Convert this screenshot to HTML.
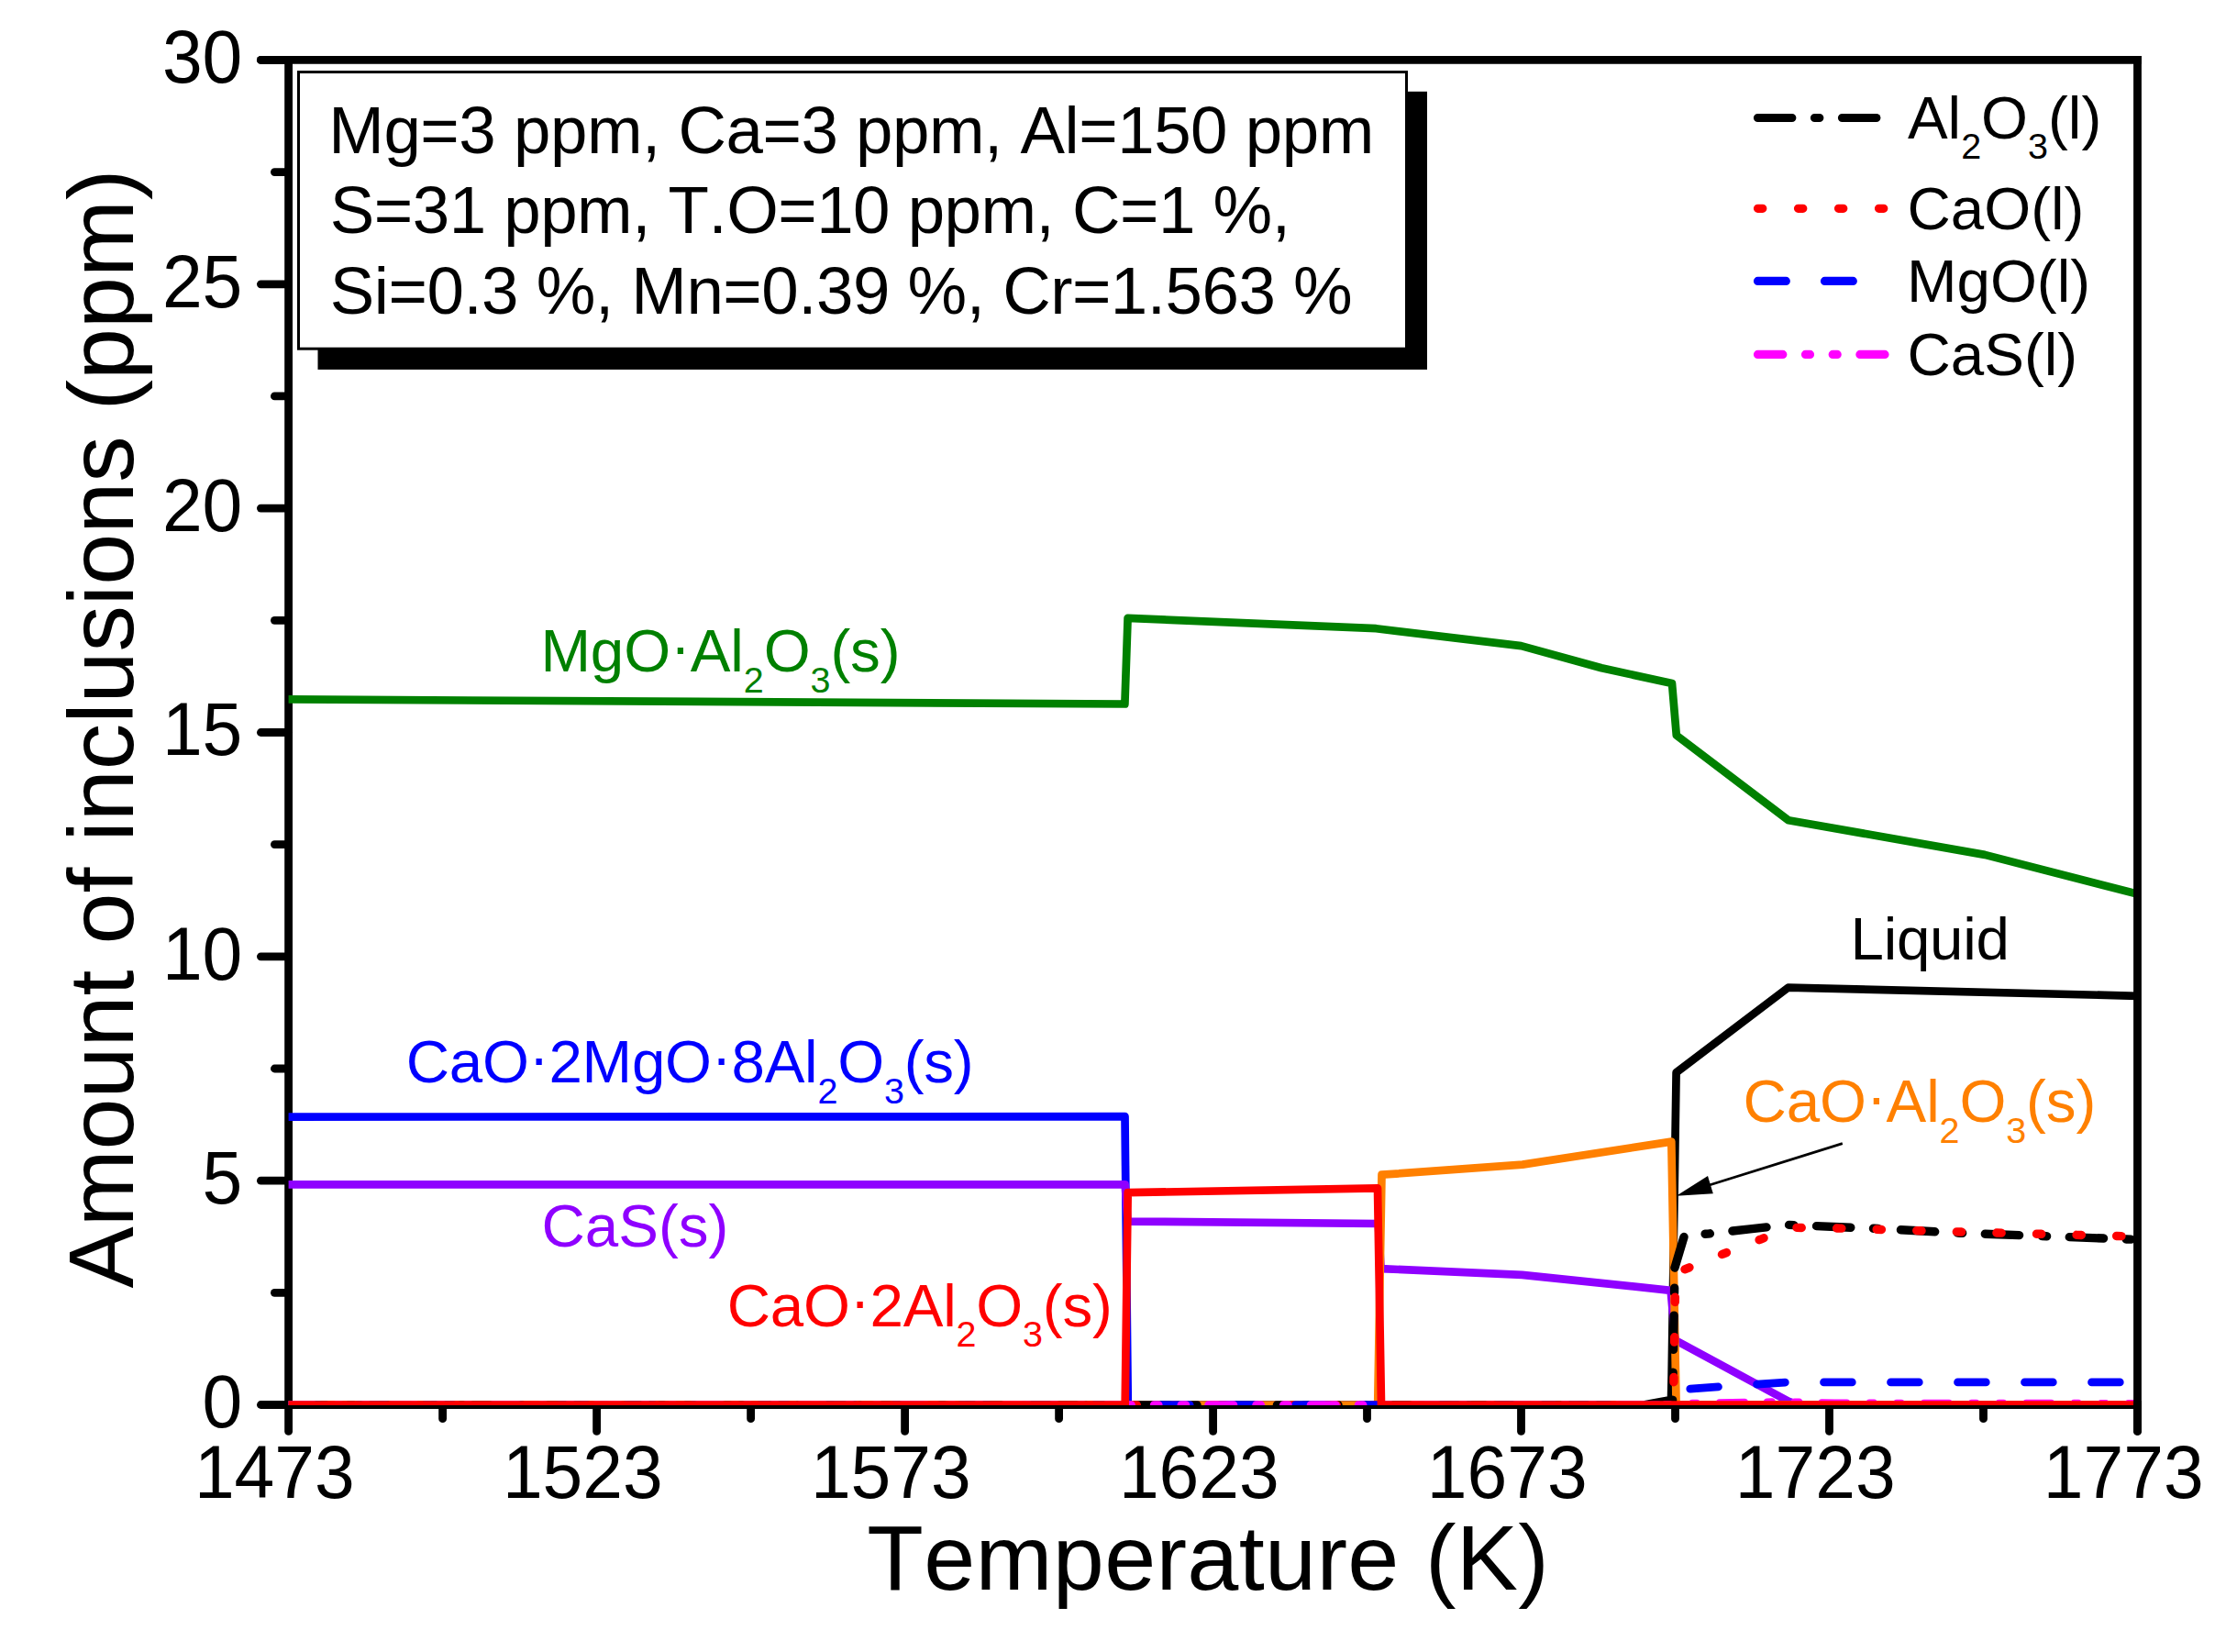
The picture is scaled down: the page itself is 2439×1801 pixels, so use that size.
<!DOCTYPE html>
<html lang="en"><head><meta charset="utf-8"><title>Amount of inclusions vs Temperature</title>
<style>html,body{margin:0;padding:0;background:#fff}svg{display:block}text{font-family:"Liberation Sans",sans-serif;font-kerning:none;font-variant-ligatures:none;}</style></head><body>
<svg width="2439" height="1801" viewBox="0 0 2439 1801">
<rect x="0" y="0" width="2439" height="1801" fill="#fff"/>
<defs><clipPath id="plotclip"><rect x="314.6" y="65.4" width="2015.9" height="1466.6"/></clipPath></defs>
<g stroke="#000" stroke-width="8.8" fill="none" stroke-linecap="round">
<line x1="284.4" y1="1531.5" x2="314.6" y2="1531.5"/>
<line x1="284.4" y1="1287.2" x2="314.6" y2="1287.2"/>
<line x1="284.4" y1="1042.8" x2="314.6" y2="1042.8"/>
<line x1="284.4" y1="798.5" x2="314.6" y2="798.5"/>
<line x1="284.4" y1="554.1" x2="314.6" y2="554.1"/>
<line x1="284.4" y1="309.8" x2="314.6" y2="309.8"/>
<line x1="284.4" y1="65.4" x2="314.6" y2="65.4"/>
<line x1="299.4" y1="1409.3" x2="314.6" y2="1409.3"/>
<line x1="299.4" y1="1165.0" x2="314.6" y2="1165.0"/>
<line x1="299.4" y1="920.6" x2="314.6" y2="920.6"/>
<line x1="299.4" y1="676.3" x2="314.6" y2="676.3"/>
<line x1="299.4" y1="431.9" x2="314.6" y2="431.9"/>
<line x1="299.4" y1="187.6" x2="314.6" y2="187.6"/>
<line x1="314.6" y1="1531.5" x2="314.6" y2="1560.4"/>
<line x1="650.6" y1="1531.5" x2="650.6" y2="1560.4"/>
<line x1="986.6" y1="1531.5" x2="986.6" y2="1560.4"/>
<line x1="1322.6" y1="1531.5" x2="1322.6" y2="1560.4"/>
<line x1="1658.5" y1="1531.5" x2="1658.5" y2="1560.4"/>
<line x1="1994.5" y1="1531.5" x2="1994.5" y2="1560.4"/>
<line x1="2330.5" y1="1531.5" x2="2330.5" y2="1560.4"/>
<line x1="482.6" y1="1531.5" x2="482.6" y2="1546.7"/>
<line x1="818.6" y1="1531.5" x2="818.6" y2="1546.7"/>
<line x1="1154.6" y1="1531.5" x2="1154.6" y2="1546.7"/>
<line x1="1490.5" y1="1531.5" x2="1490.5" y2="1546.7"/>
<line x1="1826.5" y1="1531.5" x2="1826.5" y2="1546.7"/>
<line x1="2162.5" y1="1531.5" x2="2162.5" y2="1546.7"/>
</g>
<g stroke="#000" stroke-width="8.8" fill="none" stroke-linecap="butt">
<line x1="314.6" y1="61.00000000000001" x2="314.6" y2="1535.9"/>
<line x1="310.20000000000005" y1="1531.5" x2="2334.9" y2="1531.5"/>
</g>
<g clip-path="url(#plotclip)">
<polyline points="309.6,762.4 1226.4,767.5 1229.6,673.9 1500.4,685.2 1658.5,704.1 1746.2,728.3 1823.0,745.0 1827.8,801.6 1949.9,894.2 2164.0,931.9 2335.5,975.9" fill="none" stroke="#008000" stroke-width="8.7" stroke-linejoin="round" stroke-linecap="butt"/>
<polyline points="309.6,1531.5 1792.0,1531.5 1822.0,1526.0 1822.6,1500.0 1827.6,1169.3 1949.7,1076.6 2335.5,1085.9" fill="none" stroke="#000" stroke-width="8.7" stroke-linejoin="round" stroke-linecap="butt"/>
<polyline points="309.6,1217.6 1226.5,1217.2 1229.8,1531.5 2335.5,1531.5" fill="none" stroke="#0000ff" stroke-width="8.7" stroke-linejoin="round" stroke-linecap="butt"/>
<polyline points="309.6,1291.3 1226.6,1291.3 1229.6,1331.6 1502.8,1334.0 1505.6,1383.1 1659.5,1389.8 1821.6,1406.8 1826.5,1461.0 1949.7,1527.5 1960.0,1531.5 2335.5,1531.5" fill="none" stroke="#8f00ff" stroke-width="8.7" stroke-linejoin="round" stroke-linecap="butt"/>
<polyline points="309.6,1531.5 1502.2,1531.5 1506.5,1280.7 1660.0,1269.6 1822.3,1244.6 1827.6,1531.5 2335.5,1531.5" fill="none" stroke="#ff8000" stroke-width="8.7" stroke-linejoin="round" stroke-linecap="butt"/>
<polyline points="314.6,1531.5 1823.5,1531.5" fill="none" stroke="#000" stroke-width="8.7" stroke-linejoin="round" stroke-linecap="round" stroke-dasharray="37.3 24.7 5.3 24.7" stroke-dashoffset="-3.45"/>
<polyline points="1823.5,1531.5 1826.0,1382.0" fill="none" stroke="#000" stroke-width="9.4" stroke-linejoin="round" stroke-linecap="round" stroke-dasharray="37.3 24.7 5.3 24.7" stroke-dashoffset="31.9"/>
<polyline points="1826.0,1382.0 1836.6,1346.5 1862.0,1345.1 1908.0,1339.8 1950.0,1335.4 2043.8,1339.3 2136.7,1344.2 2335.5,1351.6" fill="none" stroke="#000" stroke-width="9.4" stroke-linejoin="round" stroke-linecap="round" stroke-dasharray="37.3 24.7 5.3 24.7" stroke-dashoffset="2.42"/>
<polyline points="314.6,1531.5 1824.5,1531.5" fill="none" stroke="#ff0000" stroke-width="8.7" stroke-linejoin="round" stroke-linecap="round" stroke-dasharray="5.3 38.3" stroke-dashoffset="-4.15"/>
<polyline points="1824.5,1531.5 1826.8,1386.5 1837.4,1383.6 1878.5,1367.1 1919.5,1351.2 1950.0,1338.2 2006.4,1339.1 2137.5,1343.0 2335.5,1348.2" fill="none" stroke="#ff0000" stroke-width="9.4" stroke-linejoin="round" stroke-linecap="round" stroke-dasharray="5.3 38.3" stroke-dashoffset="18.8"/>
<polyline points="314.6,1531.5 1826.0,1531.5" fill="none" stroke="#0000ff" stroke-width="8.7" stroke-linejoin="round" stroke-linecap="round" stroke-dasharray="30.8 42.2" stroke-dashoffset="-2.75"/>
<polyline points="1826.0,1531.5 1828.6,1515.2 1877.0,1511.7 1949.7,1506.9 2335.5,1506.9" fill="none" stroke="#0000ff" stroke-width="8.7" stroke-linejoin="round" stroke-linecap="round" stroke-dasharray="30.8 42.2" stroke-dashoffset="42.3"/>
<polyline points="314.6,1531.5 1826.0,1531.5 1840.0,1530.2 1945.0,1528.5 2000.0,1529.9 2335.5,1530.3" fill="none" stroke="#ff00ff" stroke-width="8.7" stroke-linejoin="round" stroke-linecap="round" stroke-dasharray="27.3 24.7 5 24.7 5 24.75" stroke-dashoffset="0"/>
<polyline points="309.6,1531.5 1226.7,1531.5 1229.7,1300.2 1502.0,1295.4 1506.0,1531.5 2335.5,1531.5" fill="none" stroke="#ff0000" stroke-width="8.7" stroke-linejoin="round" stroke-linecap="butt"/>
</g>
<g stroke="#000" stroke-width="8.8" fill="none" stroke-linecap="butt">
<line x1="310.20000000000005" y1="65.4" x2="2334.9" y2="65.4"/>
<line x1="2330.5" y1="61.00000000000001" x2="2330.5" y2="1535.9"/>
</g>
<g stroke="#000" stroke-width="8.8" fill="none" stroke-linecap="round">
<line x1="2330.5" y1="1531.5" x2="2330.5" y2="1560.4"/>
<line x1="284.4" y1="65.4" x2="314.6" y2="65.4"/>
</g>
<g font-size="78.6" fill="#000" text-anchor="end">
<text transform="translate(264.3,1556.4) scale(1,1.04)">0</text>
<text transform="translate(264.3,1312.1) scale(1,1.04)">5</text>
<text transform="translate(264.3,1067.7) scale(1,1.04)">10</text>
<text transform="translate(264.3,823.4) scale(1,1.04)">15</text>
<text transform="translate(264.3,579.0) scale(1,1.04)">20</text>
<text transform="translate(264.3,334.6) scale(1,1.04)">25</text>
<text transform="translate(264.3,90.3) scale(1,1.04)">30</text>
</g>
<g font-size="78.6" fill="#000" text-anchor="start">
<text transform="translate(211.9,1633.2) scale(1,1.04)">1473</text>
<text transform="translate(547.9,1633.2) scale(1,1.04)">1523</text>
<text transform="translate(883.9,1633.2) scale(1,1.04)">1573</text>
<text transform="translate(1219.9,1633.2) scale(1,1.04)">1623</text>
<text transform="translate(1555.8,1633.2) scale(1,1.04)">1673</text>
<text transform="translate(1891.8,1633.2) scale(1,1.04)">1723</text>
<text transform="translate(2227.8,1633.2) scale(1,1.04)">1773</text>
</g>
<text x="945.3" y="1733.2" font-size="100.8" fill="#000" letter-spacing="0.3">Temperature (K)</text>
<text transform="translate(145.2,1404.5) rotate(-90)" x="0" y="0" font-size="100.7" fill="#000">Amount of inclusions (ppm)</text>
<rect x="346.5" y="99.8" width="1209.5" height="303.1" fill="#000"/>
<rect x="325.5" y="78.5" width="1208" height="301.7" fill="#fff" stroke="#000" stroke-width="3"/>
<g font-size="72.7" fill="#000">
<text x="358.3" y="166.9" letter-spacing="-0.47">Mg=3 ppm, Ca=3 ppm, Al=150 ppm</text>
<text x="359.8" y="254.3" letter-spacing="-0.5">S=31 ppm, T.O=10 ppm, C=1 %,</text>
<text x="359.8" y="341.9" letter-spacing="-0.48">Si=0.3 %, Mn=0.39 %, Cr=1.563 %</text>
</g>
<g fill="none" stroke-width="9.2" stroke-linecap="round">
<path d="M1916.5,128.5 H2046.5" stroke="#000" stroke-dasharray="37.3 24.7 5.3 24.7"/>
<path d="M1916.5,227.3 H2054" stroke="#ff0000" stroke-dasharray="5.3 38.7"/>
<path d="M1916.5,306.4 H2022" stroke="#0000ff" stroke-dasharray="30.8 42.2"/>
<path d="M1916.5,386.4 H2055" stroke="#ff00ff" stroke-dasharray="27.3 24.7 5 24.7 5 24.7"/>
</g>
<text x="2079.9" y="150.8" font-size="65.5" fill="#000">Al<tspan font-size="39.5" dy="22.4">2</tspan><tspan dy="-22.4">O</tspan><tspan font-size="39.5" dy="22.4">3</tspan><tspan dy="-22.4">(l)</tspan></text>
<text x="2079.5" y="249.5" font-size="65.5" fill="#000">CaO(l)</text>
<text x="2078.9" y="329.1" font-size="65.5" fill="#000">MgO(l)</text>
<text x="2079.5" y="408.6" font-size="65.5" fill="#000">CaS(l)</text>
<text x="589.4" y="732.3" font-size="65.5" fill="#008000" letter-spacing="-0.1">MgO<tspan dy="-5.6">·</tspan><tspan dy="5.6">Al</tspan><tspan font-size="39.5" dy="22.4">2</tspan><tspan dy="-22.4">O</tspan><tspan font-size="39.5" dy="22.4">3</tspan><tspan dy="-22.4">(s)</tspan></text>
<text x="442.8" y="1180.1" font-size="65.5" fill="#0000ff" letter-spacing="-0.23">CaO<tspan dy="-5.6">·</tspan><tspan dy="5.6">2MgO</tspan><tspan dy="-5.6">·</tspan><tspan dy="5.6">8Al</tspan><tspan font-size="39.5" dy="22.4">2</tspan><tspan dy="-22.4">O</tspan><tspan font-size="39.5" dy="22.4">3</tspan><tspan dy="-22.4">(s)</tspan></text>
<text x="590.5" y="1358.9" font-size="65.5" fill="#8f00ff">CaS(s)</text>
<text x="792.7" y="1446.0" font-size="65.5" fill="#ff0000" letter-spacing="-0.19">CaO<tspan dy="-5.6">·</tspan><tspan dy="5.6">2Al</tspan><tspan font-size="39.5" dy="22.4">2</tspan><tspan dy="-22.4">O</tspan><tspan font-size="39.5" dy="22.4">3</tspan><tspan dy="-22.4">(s)</tspan></text>
<text x="2017.6" y="1046.4" font-size="65.5" fill="#000" letter-spacing="-0.3">Liquid</text>
<text x="1900.6" y="1223.3" font-size="65.5" fill="#ff8000" letter-spacing="-0.13">CaO<tspan dy="-5.6">·</tspan><tspan dy="5.6">Al</tspan><tspan font-size="39.5" dy="22.4">2</tspan><tspan dy="-22.4">O</tspan><tspan font-size="39.5" dy="22.4">3</tspan><tspan dy="-22.4">(s)</tspan></text>
<line x1="2008.8" y1="1246.7" x2="1862" y2="1292.5" stroke="#000" stroke-width="2.8"/>
<polygon points="1827.7,1303.7 1862.0,1281.9 1867.8,1301.3" fill="#000"/>
</svg></body></html>
